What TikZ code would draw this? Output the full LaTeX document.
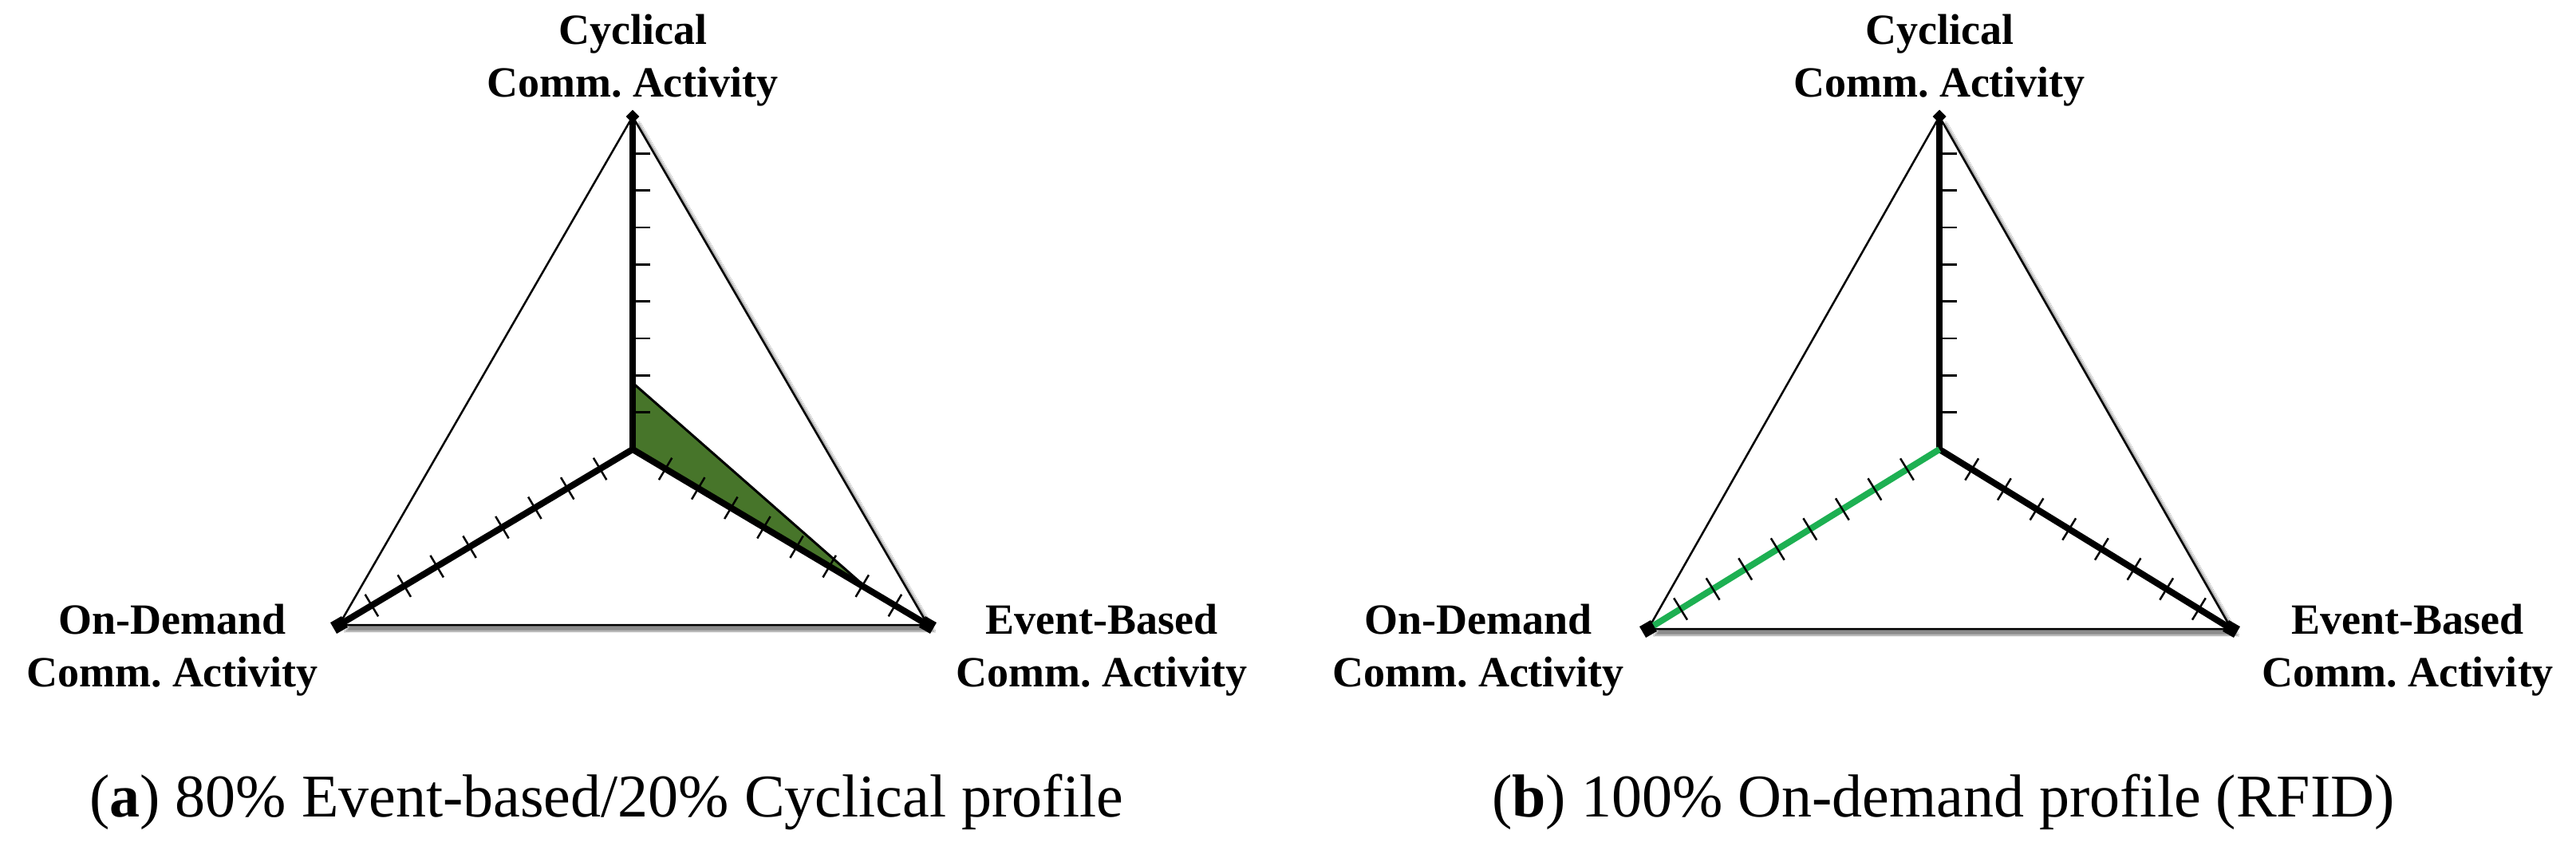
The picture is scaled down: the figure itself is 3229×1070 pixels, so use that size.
\documentclass[tikz,border=0pt]{standalone}
\usepackage{fontspec}
\setmainfont{Liberation Serif}
\usetikzlibrary{shadows.blur,calc}
\definecolor{dgreen}{HTML}{47752A}
\definecolor{lgreen}{HTML}{1DB052}
\frenchspacing
\tikzset{
  axisline/.style={line width=8pt,black},
  outer/.style={line width=2.5pt,black,blur shadow={shadow xshift=8pt,shadow yshift=-8pt,shadow blur steps=10,shadow opacity=45}},
  tickl/.style={line width=2.5pt},
  lab/.style={font=\fontsize{54}{66}\selectfont\bfseries,align=center,inner sep=0pt},
  captxt/.style={font=\fontsize{76}{86}\selectfont,inner sep=0pt},
  vmark/.style={fill=black,minimum size=16pt,inner sep=0pt}
}
\begin{document}
\begin{tikzpicture}[x=1pt,y=-1pt]
\useasboundingbox (0,0) rectangle (3229,1070);
\fill[white] (0,0) rectangle (3229,1070);
% ---- panel a ----
\coordinate (aC) at (793,563);
\coordinate (aT) at (793,146);
\coordinate (aE) at (1163,783);
\coordinate (aO) at (425,783);
\draw[outer,fill=white] (aT) -- (aE) -- (aO) -- cycle;
\fill[dgreen,draw=black,line width=3pt] (aC) -- ($(aC)!0.2!(aT)$) -- ($(aC)!0.8!(aE)$) -- cycle;
\draw[axisline] (aC) -- (aT); \draw[axisline] (aC) -- (aE); \draw[axisline] (aC) -- (aO);
\foreach \k in {1,...,8}{
  \draw[tickl] ($(aC)!\k/9!(aT)$) -- ++(22,0);
  \draw[tickl] ($(aC)!\k/9!(aE)$) -- ($($(aC)!\k/9!(aE)$)!16pt!90:(aE)$);
  \draw[tickl] ($(aC)!\k/9!(aE)$) -- ($($(aC)!\k/9!(aE)$)!16pt!-90:(aE)$);
  \draw[tickl] ($(aC)!\k/9!(aO)$) -- ($($(aC)!\k/9!(aO)$)!16pt!90:(aO)$);
  \draw[tickl] ($(aC)!\k/9!(aO)$) -- ($($(aC)!\k/9!(aO)$)!16pt!-90:(aO)$);
}
\node[vmark,rotate=45,minimum size=12pt] (amT) at (aT) {};
\node[vmark,rotate=-30] (amE) at (aE) {};
\node[vmark,rotate=30] (amO) at (aO) {};
\node[lab] (alT) at (793,76) {Cyclical\\Comm. Activity};
\node[lab] (alO) at (216,815) {On-Demand\\Comm. Activity};
\node[lab] (alE) at (1381,815) {Event-Based\\Comm. Activity};
\node[captxt] (acap) at (760,1005) {(\textbf{a}) 80\% Event-based/20\% Cyclical profile};
% ---- panel b ----
\coordinate (bC) at (2431,563);
\coordinate (bT) at (2431,146);
\coordinate (bE) at (2797,788);
\coordinate (bO) at (2066,788);
\draw[outer,fill=white] (bT) -- (bE) -- (bO) -- cycle;
\draw[axisline] (bC) -- (bT); \draw[axisline] (bC) -- (bE);
\draw[axisline,lgreen] (bC) -- (bO);
\foreach \k in {1,...,8}{
  \draw[tickl] ($(bC)!\k/9!(bT)$) -- ++(22,0);
  \draw[tickl] ($(bC)!\k/9!(bE)$) -- ($($(bC)!\k/9!(bE)$)!16pt!90:(bE)$);
  \draw[tickl] ($(bC)!\k/9!(bE)$) -- ($($(bC)!\k/9!(bE)$)!16pt!-90:(bE)$);
  \draw[tickl] ($(bC)!\k/9!(bO)$) -- ($($(bC)!\k/9!(bO)$)!16pt!90:(bO)$);
  \draw[tickl] ($(bC)!\k/9!(bO)$) -- ($($(bC)!\k/9!(bO)$)!16pt!-90:(bO)$);
}
\node[vmark,rotate=45,minimum size=12pt] (bmT) at (bT) {};
\node[vmark,rotate=-30] (bmE) at (bE) {};
\node[vmark,rotate=30] (bmO) at (bO) {};
\node[lab] (blT) at (2431,76) {Cyclical\\Comm. Activity};
\node[lab] (blO) at (1853,815) {On-Demand\\Comm. Activity};
\node[lab] (blE) at (3018,815) {Event-Based\\Comm. Activity};
\node[captxt] (bcap) at (2436,1005) {(\textbf{b}) 100\% On-demand profile (RFID)};
\end{tikzpicture}
\end{document}
